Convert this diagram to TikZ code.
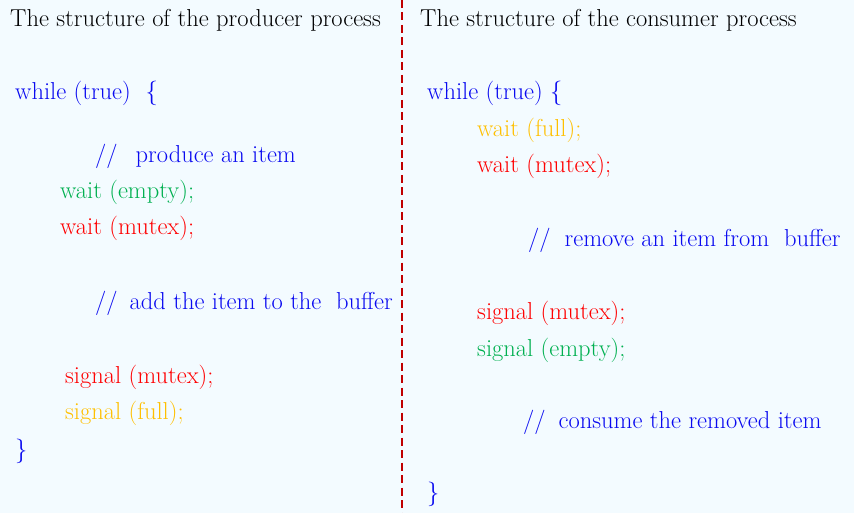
\documentclass[tikz,border=0pt]{standalone}
\usepackage{tikz}
\usepackage{xcolor}

\definecolor{bgblue}{RGB}{243,251,255}
\definecolor{kwblue}{RGB}{10,10,240}
\definecolor{semgreen}{RGB}{0,176,80}
\definecolor{semred}{RGB}{255,0,0}
\definecolor{semyellow}{RGB}{255,192,0}
\definecolor{divred}{RGB}{192,0,0}

\begin{document}
\begin{tikzpicture}[
  x=1pt, y=-1pt,
  code/.style={anchor=base west, inner sep=0pt, font=\fontsize{24.5}{29}\selectfont},
  title/.style={code, text=black},
  kw/.style={code, text=kwblue},
  note/.style={code, text=kwblue},
  gsem/.style={code, text=semgreen},
  rsem/.style={code, text=semred},
  ysem/.style={code, text=semyellow},
  divider/.style={divred, line width=2pt, dash pattern=on 8pt off 4.5pt}
]

% Background and frame
\fill[bgblue] (0,0) rectangle (854,513);
\useasboundingbox (0,0) rectangle (854,513);

% Divider between the two processes
\coordinate (divtop) at (402,0);
\coordinate (divbot) at (402,513);
\draw[divider] (divtop) -- (divbot);

% Producer process
\node[title] (ptitle) at (10,27) {The structure of the producer process};
\node[kw] (pwhile) at (15,100) {while (true)\ \ \{};
\node[note] (pnote1) at (95,163) {//\hspace{18pt}produce an item};
\node[gsem] (pwaite) at (60,199) {wait (empty);};
\node[rsem] (pwaitm) at (60,235) {wait (mutex);};
\node[note] (pnote2) at (95,309) {//\hspace{12pt}add the item to the\ \ buffer};
\node[rsem] (psigm) at (65,383) {signal (mutex);};
\node[ysem] (psigf) at (65,419) {signal (full);};
\node[kw] (pend) at (15,457) {\}};

% Consumer process
\node[title] (ctitle) at (420,27) {The structure of the consumer process};
\node[kw] (cwhile) at (427,100) {while (true) \{};
\node[ysem] (cwaitf) at (477,137) {wait (full);};
\node[rsem] (cwaitm) at (477,173) {wait (mutex);};
\node[note] (cnote1) at (528,247) {//\hspace{14pt}remove an item from\ \ buffer};
\node[rsem] (csigm) at (477,319) {signal (mutex);};
\node[gsem] (csige) at (477,356) {signal (empty);};
\node[note] (cnote2) at (523,428) {//\hspace{13pt}consume the removed item};
\node[kw] (cend) at (427,500) {\}};

\end{tikzpicture}
\end{document}
